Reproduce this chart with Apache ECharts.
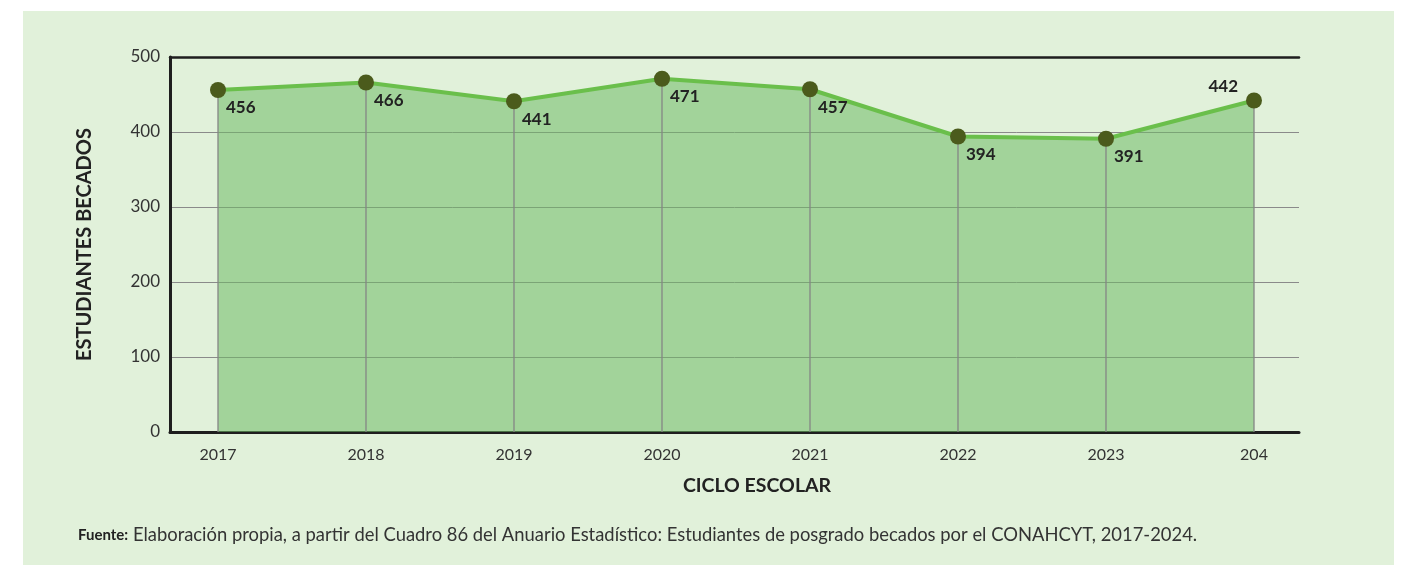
<!DOCTYPE html>
<html>
<head>
<meta charset="utf-8">
<script src="https://cdn.jsdelivr.net/npm/echarts@6/dist/echarts.min.js"></script>
<style>
  html, body { margin: 0; padding: 0; background: #fff; }
  #chart { width: 1402px; height: 565px; }
</style>
</head>
<body>
<div id="chart"></div>
<script>
// datos
const years = ['2017', '2018', '2019', '2020', '2021', '2022', '2023', '204']
const becados = [456, 466, 441, 471, 457, 394, 391, 442]
const yTicks = [0, 100, 200, 300, 400, 500]

const font = 'Lato, sans-serif'
let myChart = echarts.init(document.getElementById('chart'))

myChart.setOption({
  backgroundColor: '#ffffff',
  animation: false,
  graphic: [
    {
      type: 'rect', z: -10, silent: true,
      shape: { x: 23, y: 11, width: 1371, height: 554 },
      style: { fill: '#e1f1da' }
    },
    {
      type: 'text', x: 757, y: 486,
      style: { text: 'CICLO ESCOLAR', font: 'bold 19.5px ' + font, fill: '#222', align: 'center', verticalAlign: 'middle' }
    },
    {
      type: 'text', x: 78, y: 535,
      style: {
        text: '{b|Fuente:} Elaboración propia, a partir del Cuadro 86 del Anuario Estadístico: Estudiantes de posgrado becados por el CONAHCYT, 2017-2024.',
        rich: {
          b: { fontFamily: font, fontWeight: 'bold', fontSize: 15, fill: '#222' }
        },
        fontFamily: font, fontSize: 18.4, fill: '#333', verticalAlign: 'middle'
      }
    }
  ],
  grid: [
    { left: 170, right: 103, top: 57, bottom: 133 },
    { left: 218, right: 148, top: 57, bottom: 133 }
  ],
  xAxis: [
    {
      gridIndex: 0, type: 'value', position: 'bottom', min: 0, max: 1,
      axisLine: { show: true, onZero: false, lineStyle: { color: '#1e1e1e', width: 3 } },
      axisTick: { show: false }, axisLabel: { show: false }, splitLine: { show: false }
    },
    {
      gridIndex: 0, type: 'value', position: 'top', min: 0, max: 1,
      axisLine: { show: true, onZero: false, lineStyle: { color: '#1e1e1e', width: 2.5 } },
      axisTick: { show: false }, axisLabel: { show: false }, splitLine: { show: false }
    },
    {
      gridIndex: 1, type: 'category', data: years, boundaryGap: false,
      axisLine: { show: false }, axisTick: { show: false },
      axisLabel: { margin: 15, color: '#333', fontSize: 16, fontFamily: font }
    }
  ],
  yAxis: [
    {
      gridIndex: 0, type: 'value', min: yTicks[0], max: yTicks[yTicks.length - 1], interval: 100,
      name: 'ESTUDIANTES BECADOS', nameLocation: 'middle', nameGap: 75, nameRotate: 90,
      nameTextStyle: { fontFamily: font, fontWeight: 'bold', fontSize: 20, color: '#222' },
      axisLine: { show: true, lineStyle: { color: '#1e1e1e', width: 3 } },
      axisTick: { show: false },
      axisLabel: { margin: 10, color: '#333', fontSize: 17, fontFamily: font },
      splitLine: { show: true, lineStyle: { color: '#8a8a8a', width: 1 } }
    },
    {
      gridIndex: 1, type: 'value', min: yTicks[0], max: yTicks[yTicks.length - 1], show: false
    }
  ],
  series: [
    {
      // área bajo la curva (semitransparente para ver la cuadrícula)
      type: 'line', xAxisIndex: 2, yAxisIndex: 1, data: becados,
      symbol: 'none', z: 2, silent: true,
      lineStyle: { width: 0 },
      areaStyle: { color: 'rgba(112,186,102,0.55)', opacity: 1 }
    },
    {
      // líneas verticales bajo cada punto
      type: 'bar', xAxisIndex: 2, yAxisIndex: 1, data: becados,
      barWidth: 1.3, itemStyle: { color: '#858585' }, z: 3, silent: true
    },
    {
      type: 'line', xAxisIndex: 2, yAxisIndex: 1, data: becados,
      symbol: 'circle', symbolSize: 16, z: 4,
      lineStyle: { color: '#6abf4b', width: 4 },
      itemStyle: { color: '#4b5b1c' },
      label: {
        show: true, position: 'right', distance: 0,
        fontFamily: font, fontWeight: 'bold', fontSize: 17, color: '#222'
      },
      labelLayout: function (p) {
        if (p.dataIndex === becados.length - 1) {
          return { x: p.rect.x - 8, y: p.rect.y - 14, align: 'right' }
        }
        return { dy: 18 }
      }
    }
  ]
})
</script>
</body>
</html>
